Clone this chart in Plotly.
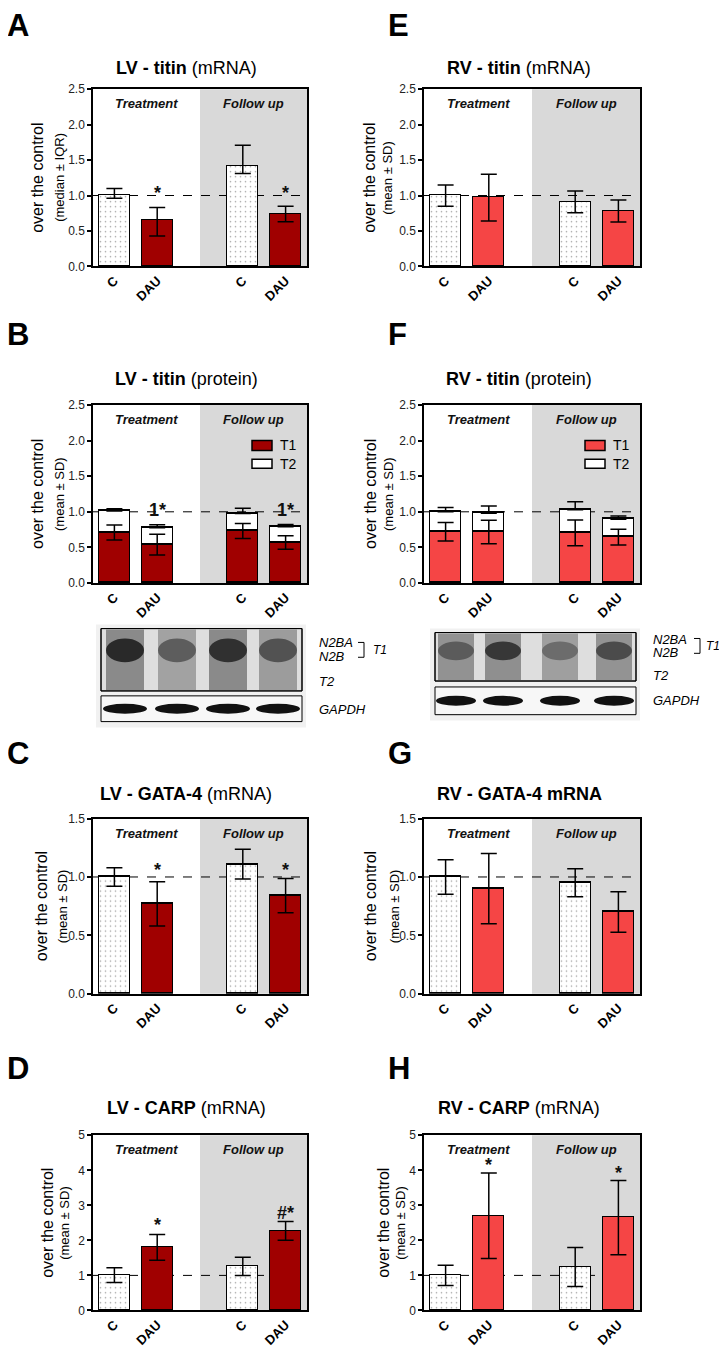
import plotly.graph_objects as go

W, H = 727, 1359          # reference picture size
OFF = 8                   # default page margin of the html body
FW, FH = W - OFF, H - OFF # figure size so that reference pixels land in place
FONT = "Liberation Sans, Arial, sans-serif"
LV_RED = "#A00000"
RV_RED = "#F54545"
SHADE = "#D9D9D9"

# ---------------- data ----------------
positions = [0, 1, 3, 4]
tick_labels = ["C", "DAU", "C", "DAU"]

# A: LV titin mRNA (median, IQR)
A_vals = [1.00, 0.65, 1.41, 0.73]
A_err_hi = [0.10, 0.18, 0.30, 0.12]
A_err_lo = [0.04, 0.22, 0.10, 0.10]
# E: RV titin mRNA
E_vals = [1.00, 0.97, 0.91, 0.78]
E_sd = [0.15, 0.33, 0.155, 0.155]
# B: LV titin protein (stacked T1 + T2)
B_T1 = [0.71, 0.54, 0.73, 0.57]
B_T1_sd = [0.105, 0.145, 0.105, 0.095]
B_T2 = [0.30, 0.235, 0.245, 0.22]
B_tot_sd = [0.032, 0.042, 0.074, 0.033]
# F: RV titin protein
F_T1 = [0.72, 0.715, 0.705, 0.645]
F_T1_sd = [0.13, 0.165, 0.18, 0.11]
F_T2 = [0.28, 0.265, 0.325, 0.25]
F_tot_sd = [0.06, 0.10, 0.11, 0.046]
# C: LV GATA-4
C_vals = [1.00, 0.77, 1.11, 0.84]
C_sd = [0.08, 0.19, 0.127, 0.147]
# G: RV GATA-4
G_vals = [1.00, 0.90, 0.95, 0.70]
G_sd = [0.147, 0.30, 0.12, 0.173]
# D: LV CARP
D_vals = [1.01, 1.80, 1.26, 2.27]
D_sd = [0.21, 0.37, 0.26, 0.27]
# H: RV CARP
H_vals = [1.00, 2.70, 1.24, 2.65]
H_sd = [0.29, 1.22, 0.56, 1.06]

# significance marks: (position, text, y)
A_marks = [(1, "*", 1.10), (4, "*", 1.10)]
B_marks = [(1, "1*", 1.10), (4, "1*", 1.10)]
C_marks = [(1, "*", 1.10), (4, "*", 1.10)]
D_marks = [(1, "*", 2.58), (4, "#*", 2.93)]
H_marks = [(1, "*", 4.30), (4, "*", 4.06)]

# ---------------- layout geometry (reference pixels) ----------------
rows = [  # plot top, plot bottom, title y, letter y
    (83, 262, 62, 19),
    (402, 582, 376, 331),
    (820, 997, 795, 754),
    (1140, 1317, 1112, 1073),
]
cols = [(93, 307, 186, 5), (424, 640, 519, 386)]

panels = [
    dict(letter="A", r=0, c=0, title="<b>LV - titin</b> (mRNA)", sub="(median ± IQR)",
         ymax=2.5, dtick=0.5, fmt=".1f", kind="single", vals=A_vals, ehi=A_err_hi, elo=A_err_lo,
         color=LV_RED, marks=A_marks, ylab=(38, 60)),
    dict(letter="E", r=0, c=1, title="<b>RV - titin</b> (mRNA)", sub="(mean ± SD)",
         ymax=2.5, dtick=0.5, fmt=".1f", kind="single", vals=E_vals, ehi=E_sd, elo=E_sd,
         color=RV_RED, marks=[], ylab=(370, 388)),
    dict(letter="B", r=1, c=0, title="<b>LV - titin</b> (protein)", sub="(mean ± SD)",
         ymax=2.5, dtick=0.5, fmt=".1f", kind="stack", t1=B_T1, t1sd=B_T1_sd, t2=B_T2, totsd=B_tot_sd,
         color=LV_RED, marks=B_marks, ylab=(38, 60)),
    dict(letter="F", r=1, c=1, title="<b>RV - titin</b> (protein)", sub="(mean ± SD)",
         ymax=2.5, dtick=0.5, fmt=".1f", kind="stack", t1=F_T1, t1sd=F_T1_sd, t2=F_T2, totsd=F_tot_sd,
         color=RV_RED, marks=[], ylab=(371, 389)),
    dict(letter="C", r=2, c=0, title="<b>LV - GATA-4</b> (mRNA)", sub="(mean ± SD)",
         ymax=1.5, dtick=0.5, fmt=".1f", kind="single", vals=C_vals, ehi=C_sd, elo=C_sd,
         color=LV_RED, marks=C_marks, ylab=(41, 62)),
    dict(letter="G", r=2, c=1, title="<b>RV - GATA-4 mRNA</b>", sub="(mean ± SD)",
         ymax=1.5, dtick=0.5, fmt=".1f", kind="single", vals=G_vals, ehi=G_sd, elo=G_sd,
         color=RV_RED, marks=[], ylab=(370, 394)),
    dict(letter="D", r=3, c=0, title="<b>LV - CARP</b> (mRNA)", sub="(mean ± SD)",
         ymax=5, dtick=1, fmt="d", kind="single", vals=D_vals, ehi=D_sd, elo=D_sd,
         color=LV_RED, marks=D_marks, ylab=(48, 65)),
    dict(letter="H", r=3, c=1, title="<b>RV - CARP</b> (mRNA)", sub="(mean ± SD)",
         ymax=5, dtick=1, fmt="d", kind="single", vals=H_vals, ehi=H_sd, elo=H_sd,
         color=RV_RED, marks=H_marks, ylab=(384, 401)),
]

fig = go.Figure()
shapes = []
annotations = []
layout_axes = {}


def px(x):
    return (x - OFF) / FW


def py(y):
    return 1 - (y - OFF) / FH


def rect(x0, y0, x1, y1, fill, line=None, kind="rect", opacity=1.0):
    d = dict(type=kind, xref="paper", yref="paper", x0=px(x0), x1=px(x1),
             y0=py(y1), y1=py(y0), fillcolor=fill, opacity=opacity, layer="above")
    d["line"] = line if line else dict(width=0)
    return d


def text(x, y, s, size=13, xanchor="center", yanchor="middle", angle=0, italic=False, bold=False, color="black"):
    if bold:
        s = "<b>" + s + "</b>"
    if italic:
        s = "<i>" + s + "</i>"
    return dict(xref="paper", yref="paper", x=px(x), y=py(y), text=s, showarrow=False,
                xanchor=xanchor, yanchor=yanchor, textangle=angle,
                font=dict(family=FONT, size=size, color=color))


XR = [-0.5, 4.5]
BW = 0.72

for i, p in enumerate(panels, start=1):
    top, bot, ty, ly = rows[p["r"]]
    left, right, tx, lx = cols[p["c"]]
    sfx = "" if i == 1 else str(i)
    xa, ya = f"x{sfx}", f"y{sfx}"
    xkey, ykey = f"xaxis{sfx}", f"yaxis{sfx}"
    layout_axes[xkey] = dict(domain=[px(left), px(right)], anchor=ya, range=XR,
                             showline=True, linecolor="black", linewidth=1.5, mirror=True,
                             showgrid=False, zeroline=False, ticks="",
                             tickmode="array", tickvals=positions,
                             ticktext=[f"<b>{t}</b>" for t in tick_labels],
                             tickangle=-45, tickfont=dict(family=FONT, size=13, color="black"),
                             fixedrange=True)
    layout_axes[ykey] = dict(domain=[py(bot), py(top)], anchor=xa, range=[0, p["ymax"]],
                             dtick=p["dtick"], tick0=0, tickformat=p["fmt"],
                             showline=True, linecolor="black", linewidth=1.5, mirror=True,
                             showgrid=False, zeroline=False, ticks="outside", ticklen=4,
                             tickwidth=1.5, tickcolor="black",
                             tickfont=dict(family=FONT, size=12, color="#222"), fixedrange=True)

    # follow-up shading and the reference dashed line
    shapes.append(dict(type="rect", xref=xa, yref=f"{ya} domain", x0=2.0, x1=XR[1], y0=0, y1=1,
                       fillcolor=SHADE, line=dict(width=0), layer="below"))
    shapes.append(dict(type="line", xref=f"{xa} domain", yref=ya, x0=0, x1=1, y0=1, y1=1,
                       line=dict(color="black", width=1, dash="dash"), layer="below"))

    if p["kind"] == "single":
        colors = ["white", p["color"], "white", p["color"]]
        fig.add_trace(go.Bar(
            x=positions, y=p["vals"], width=BW, xaxis=xa, yaxis=ya, showlegend=False,
            marker=dict(color=colors, line=dict(color="black", width=1.5),
                        pattern=dict(shape=[".", "", ".", ""], fgcolor="#555555",
                                     size=5, solidity=0.08, fillmode="overlay")),
            hoverinfo="skip"))
        fig.add_trace(go.Scatter(
            x=positions, y=p["vals"], mode="markers", xaxis=xa, yaxis=ya, showlegend=False,
            marker=dict(size=1, opacity=0),
            error_y=dict(type="data", symmetric=False, array=p["ehi"], arrayminus=p["elo"],
                         color="black", thickness=1.5, width=8),
            hoverinfo="skip"))
    else:
        tot = [a + b for a, b in zip(p["t1"], p["t2"])]
        fig.add_trace(go.Bar(x=positions, y=p["t1"], width=BW, xaxis=xa, yaxis=ya, showlegend=False,
                             marker=dict(color=p["color"], line=dict(color="black", width=1.5)),
                             hoverinfo="skip"))
        fig.add_trace(go.Bar(x=positions, y=p["t2"], width=BW, xaxis=xa, yaxis=ya, showlegend=False,
                             marker=dict(color="white", line=dict(color="black", width=1.5)),
                             hoverinfo="skip"))
        fig.add_trace(go.Scatter(
            x=positions, y=tot, mode="markers", xaxis=xa, yaxis=ya, showlegend=False,
            marker=dict(size=1, opacity=0),
            error_y=dict(type="data", symmetric=False, array=p["totsd"],
                         arrayminus=[0] * len(tot), color="black", thickness=1.5, width=8),
            hoverinfo="skip"))
        fig.add_trace(go.Scatter(
            x=positions, y=p["t1"], mode="markers", xaxis=xa, yaxis=ya, showlegend=False,
            marker=dict(size=1, opacity=0),
            error_y=dict(type="data", array=p["t1sd"], color="black", thickness=1.5, width=8),
            hoverinfo="skip"))
        # legend swatches (T1 / T2)
        sx = right - 55
        shapes.append(rect(sx, top + 36, sx + 20, top + 46, p["color"],
                           line=dict(color="black", width=1.5)))
        shapes.append(rect(sx, top + 55, sx + 20, top + 64, "white",
                           line=dict(color="black", width=1.5)))
        annotations.append(text(sx + 26, top + 41, "T1", size=14, xanchor="left"))
        annotations.append(text(sx + 26, top + 60, "T2", size=14, xanchor="left"))

    # group headers
    for gx, gt in [(0.75, "Treatment"), (3.25, "Follow up")]:
        annotations.append(dict(xref=xa, yref=f"{ya} domain", x=gx, y=1, yanchor="top", yshift=-5,
                                text=f"<b><i>{gt}</i></b>", showarrow=False,
                                font=dict(family=FONT, size=13, color="#111")))
    # significance marks
    for pos, s, yv in p["marks"]:
        annotations.append(dict(xref=xa, yref=ya, x=pos, y=yv, yshift=-5, text=f"<b>{s}</b>",
                                showarrow=False, font=dict(family=FONT, size=18, color="#111")))
    # titles, letters, y labels
    annotations.append(text(tx, ty, p["title"], size=18))
    annotations.append(text(lx, ly, p["letter"], size=31, bold=True, xanchor="left"))
    annotations.append(text(p["ylab"][0], (top + bot) / 2, "over the control", size=16, angle=-90))
    annotations.append(text(p["ylab"][1], (top + bot) / 2, p["sub"], size=13, angle=-90))

# ---------------- western blot sketches ----------------
def blot(x0, x1, y0, y1, gy0, gy1, lanes, lane_hw, smear, band, band_y, gap_hw):
    shapes.append(rect(x0 - 5, y0 - 4, x1 + 4, gy1 + 6, "#f1f1f1"))
    shapes.append(rect(x0, y0, x1, y1, "#dedede", line=dict(color="black", width=1)))
    for cx, sm, bd in zip(lanes, smear, band):
        shapes.append(rect(cx - lane_hw, y0 + 1, cx + lane_hw, y1 - 1, sm, opacity=0.75))
        shapes.append(rect(cx - lane_hw, band_y[0], cx + lane_hw, band_y[1], bd, kind="circle",
                           opacity=0.9))
    shapes.append(rect(x0, y0, x1, y1, "rgba(0,0,0,0)", line=dict(color="black", width=1)))
    shapes.append(rect(x0, gy0, x1, gy1, "#f7f7f7", line=dict(color="black", width=1)))
    gm = (gy0 + gy1) / 2
    for cx in lanes:
        shapes.append(rect(cx - gap_hw, gm - 5, cx + gap_hw, gm + 5, "#111111", kind="circle"))


blot(101, 302, 628, 691, 696, 722, [125, 177, 228, 278], 19,
     ["#6e6e6e", "#8e8e8e", "#6e6e6e", "#868686"],
     ["#1e1e1e", "#555555", "#262626", "#4a4a4a"], (638, 662), 22)
blot(435, 636, 632, 681, 687, 715, [456, 503, 560, 614], 18,
     ["#787878", "#747474", "#8a8a8a", "#7a7a7a"],
     ["#555555", "#2e2e2e", "#666666", "#444444"], (641, 660), 20)

# blot labels
for (lx, ys, bx, tx1, bry) in [(317, (642, 656, 681, 710), 364, 371, (642, 657)),
                                (651, (639, 652, 675, 701), 700, 704, (638, 653))]:
    annotations.append(text(lx, ys[0], "N2BA", size=13, xanchor="left", italic=True))
    annotations.append(text(lx, ys[1], "N2B", size=13, xanchor="left", italic=True))
    annotations.append(text(lx, ys[2], "T2", size=13, xanchor="left", italic=True))
    annotations.append(text(lx, ys[3], "GAPDH", size=13, xanchor="left", italic=True))
    annotations.append(text(tx1, (bry[0] + bry[1]) / 2, "T1", size=12, xanchor="left", italic=True))
    shapes.append(dict(type="path", xref="paper", yref="paper",
                       path=f"M {px(bx - 6)} {py(bry[0])} L {px(bx)} {py(bry[0])} "
                            f"L {px(bx)} {py(bry[1])} L {px(bx - 6)} {py(bry[1])}",
                       line=dict(color="black", width=1)))

fig.update_layout(
    width=FW, height=FH, margin=dict(l=0, r=0, t=0, b=0),
    paper_bgcolor="white", plot_bgcolor="white", barmode="stack", bargap=0,
    showlegend=False, shapes=shapes, annotations=annotations,
    font=dict(family=FONT, color="black"),
    **layout_axes,
)

fig.write_html("out.html")
